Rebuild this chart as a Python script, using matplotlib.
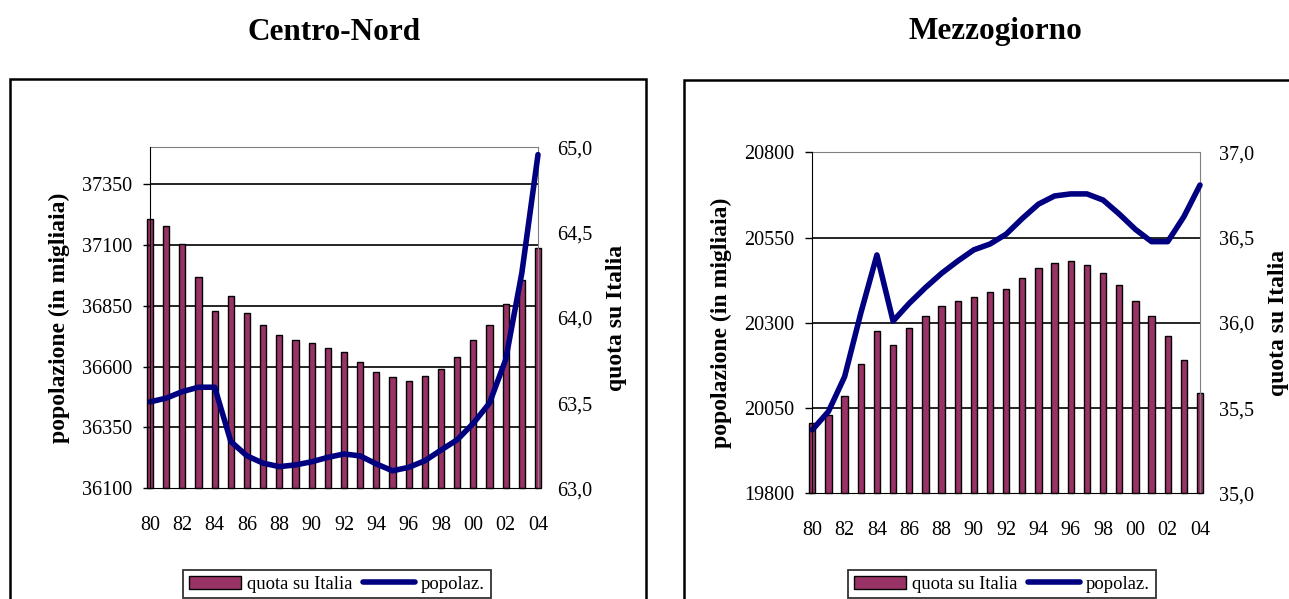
import matplotlib
matplotlib.use("Agg")
import matplotlib.pyplot as plt
from matplotlib.patches import Rectangle
from matplotlib.ticker import FuncFormatter
from matplotlib.transforms import blended_transform_factory

plt.rcParams['font.family'] = ['Liberation Serif', 'DejaVu Serif']

# Dati
ANNI = list(range(1980, 2005))
ETICHETTE_X = [f"{a % 100:02d}" for a in ANNI[::2]]

# Centro-Nord
pop_cn = [36455, 36470, 36497, 36515, 36515, 36292, 36233, 36203, 36189, 36196,
          36209, 36227, 36241, 36233, 36200, 36172, 36186, 36213, 36257, 36299,
          36367, 36450, 36628, 36984, 37470]
quota_cn = [64.58, 64.54, 64.43, 64.24, 64.04, 64.13, 64.03, 63.96, 63.90, 63.87,
            63.85, 63.82, 63.80, 63.74, 63.68, 63.65, 63.63, 63.66, 63.70, 63.77,
            63.87, 63.96, 64.08, 64.22, 64.41]

# Mezzogiorno
pop_mz = [19986, 20040, 20142, 20328, 20499, 20305, 20357, 20403, 20445, 20481,
          20514, 20531, 20560, 20606, 20648, 20672, 20678, 20678, 20660, 20619,
          20574, 20538, 20538, 20611, 20704]
quota_mz = [35.41, 35.46, 35.57, 35.76, 35.95, 35.87, 35.97, 36.04, 36.10, 36.13,
            36.15, 36.18, 36.20, 36.26, 36.32, 36.35, 36.36, 36.34, 36.29, 36.22,
            36.13, 36.04, 35.92, 35.78, 35.59]

W, H = 1289, 599
COL_BARRE = "#993366"
COL_LINEA = "#000080"
GRIGIO = "#808080"

fig = plt.figure(figsize=(W / 100, H / 100), dpi=100)

# cornici dei due riquadri
fig.patches.append(Rectangle((10 / W, -0.05), 636 / W, 1 - 79 / H + 0.05,
                             transform=fig.transFigure, fill=False,
                             lw=1.8, edgecolor="black"))
fig.patches.append(Rectangle((684 / W, -0.05), 700 / W, 1 - 80 / H + 0.05,
                             transform=fig.transFigure, fill=False,
                             lw=1.8, edgecolor="black"))


def virgola(v, pos):
    return f"{v:.1f}".replace(".", ",")


def pannello(rect, titolo, titolo_x, pop, quota, pop_lim, quota_lim, legenda_x):
    x = list(range(len(ANNI)))

    ax_b = fig.add_axes(rect)
    ax_l = fig.add_axes(rect)
    ax_l.patch.set_visible(False)

    # barre: quota su Italia (asse destro), partono dal fondo dell'asse
    base = quota_lim[0]
    barre = ax_b.bar(x, [q - base for q in quota], bottom=base, width=0.39,
                     color=COL_BARRE, edgecolor="black", linewidth=1.0,
                     zorder=2, clip_on=False, label="quota su Italia")
    ax_b.set_xlim(0, len(ANNI) - 1)
    ax_b.set_ylim(*quota_lim)
    ax_b.set_yticks([quota_lim[0] + 0.5 * i for i in range(5)])
    ax_b.yaxis.set_major_formatter(FuncFormatter(virgola))
    ax_b.yaxis.tick_right()
    ax_b.yaxis.set_label_position("right")
    ax_b.tick_params(axis="y", length=0, pad=14, labelsize=14.5)
    ax_b.set_xticks(x[::2])
    ax_b.set_xticklabels(ETICHETTE_X)
    ax_b.tick_params(axis="x", length=0, pad=20, labelsize=14.5)
    ax_b.set_ylabel("quota su Italia", fontsize=17, fontweight="bold")
    ax_b.yaxis.set_label_coords(1.175, 0.5)
    ax_b.spines["left"].set_visible(False)
    ax_b.spines["bottom"].set_color("black")
    for s in ("top", "right"):
        ax_b.spines[s].set_color(GRIGIO)

    # linea: popolazione (asse sinistro)
    linea, = ax_l.plot(x, pop, color=COL_LINEA, lw=4.0, solid_joinstyle="round",
                       solid_capstyle="round", clip_on=False, label="popolaz.")
    ax_l.set_xlim(0, len(ANNI) - 1)
    ax_l.set_ylim(*pop_lim)
    tick_pop = list(range(pop_lim[0], pop_lim[1] + 1, 250))
    ax_l.set_yticks(tick_pop)
    ax_l.tick_params(axis="y", length=5, width=1, pad=8, labelsize=14.5)
    ax_l.set_xticks([])
    ax_l.set_ylabel("popolazione (in migliaia)", fontsize=17, fontweight="bold")
    ax_l.yaxis.set_label_coords(-0.206, 0.5)
    for s in ("top", "right", "bottom"):
        ax_l.spines[s].set_visible(False)

    # griglia orizzontale sui tick dell'asse sinistro, dietro le barre
    tr = blended_transform_factory(ax_b.transAxes, ax_l.transData)
    for v in tick_pop:
        if pop_lim[0] < v < pop_lim[1]:
            ax_b.plot([0, 1], [v, v], transform=tr, color="black", lw=1.2, zorder=1)

    fig.text(titolo_x / W, 1 - 32 / H, titolo, ha="center", va="center",
             fontsize=22.5, fontweight="bold")

    leg = ax_l.legend([barre, linea], ["quota su Italia", "popolaz."],
                      loc="upper center", bbox_to_anchor=(legenda_x / W, 1 - 570 / H),
                      bbox_transform=fig.transFigure, ncol=2, fontsize=13.4,
                      frameon=True, fancybox=False, edgecolor="black",
                      borderpad=0.3, handlelength=2.8, handletextpad=0.3,
                      columnspacing=0.6, borderaxespad=0)
    leg.get_frame().set_linewidth(1.3)


pannello([150 / W, 1 - 488.3 / H, 388 / W, 341 / H], "Centro-Nord", 334,
         pop_cn, quota_cn, (36100, 37500), (63.0, 65.0), 337)
pannello([812.3 / W, 1 - 493.3 / H, 387.7 / W, 341 / H], "Mezzogiorno", 995,
         pop_mz, quota_mz, (19800, 20800), (35.0, 37.0), 1002)

fig.savefig("out.png", dpi=100)
